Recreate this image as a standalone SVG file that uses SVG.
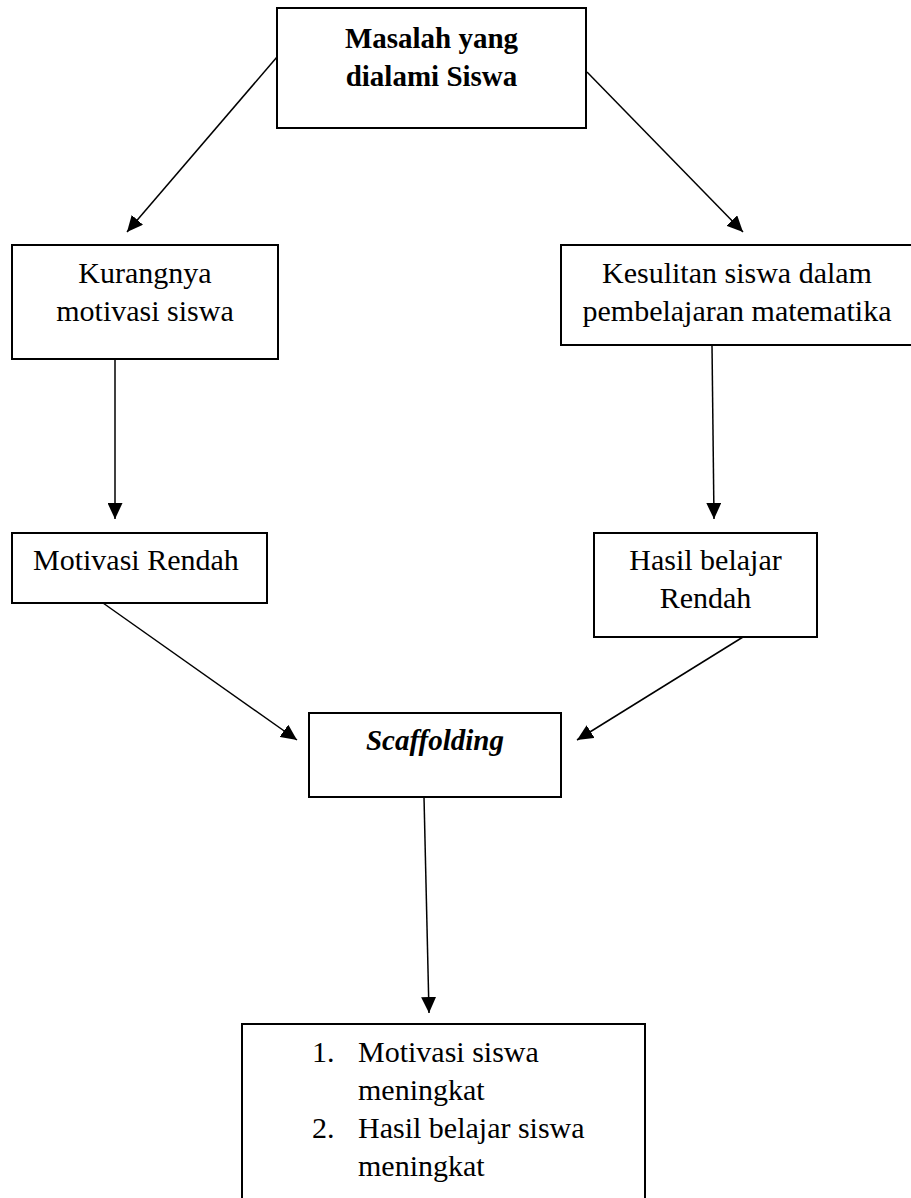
<svg xmlns="http://www.w3.org/2000/svg" width="911" height="1198" viewBox="0 0 911 1198">
<style>
.box{fill:#fff;stroke:#000;stroke-width:2}
.t{font-family:"Liberation Serif","Times New Roman",serif;font-size:30px;fill:#000}
.c{text-anchor:middle}
.b{font-weight:bold;font-size:29px}
.i{font-style:italic}
.ln{fill:none;stroke:#000;stroke-width:1.5;marker-end:url(#ah)}
</style>
<defs>
<marker id="ah" markerUnits="userSpaceOnUse" markerWidth="16" markerHeight="15" refX="16" refY="7.5" orient="auto">
<path d="M0,0 L16,7.5 L0,15 z" fill="#000"/>
</marker>
</defs>
<rect width="911" height="1198" fill="#fff"/>
<g id="connectors">
<line class="ln" x1="277" y1="57" x2="127" y2="232"/>
<line class="ln" x1="587" y1="72" x2="743" y2="232"/>
<line class="ln" x1="115" y1="359" x2="115" y2="519"/>
<line class="ln" x1="712" y1="345" x2="714" y2="519"/>
<line class="ln" x1="103" y1="603" x2="297" y2="740"/>
<line class="ln" x1="743" y1="637" x2="577" y2="740"/>
<line class="ln" x1="424" y1="797" x2="429" y2="1013"/>
</g>
<g id="masalah">
<rect class="box" x="277" y="8" width="309" height="120"/>
<text class="t c b" x="431.5" y="48">Masalah yang</text>
<text class="t c b" x="431.5" y="86">dialami Siswa</text>
</g>
<g id="kurangnya">
<rect class="box" x="12" y="245" width="266" height="114"/>
<text class="t c" x="145" y="283">Kurangnya</text>
<text class="t c" x="145" y="321">motivasi siswa</text>
</g>
<g id="kesulitan">
<rect class="box" x="561" y="245" width="355" height="100"/>
<text class="t c" x="737" y="283">Kesulitan siswa dalam</text>
<text class="t c" x="737" y="321">pembelajaran matematika</text>
</g>
<g id="motivasi-rendah">
<rect class="box" x="12" y="533" width="255" height="70"/>
<text class="t" x="33" y="570">Motivasi Rendah</text>
</g>
<g id="hasil-rendah">
<rect class="box" x="594" y="533" width="223" height="104"/>
<text class="t c" x="705.5" y="570">Hasil belajar</text>
<text class="t c" x="705.5" y="608">Rendah</text>
</g>
<g id="scaffolding">
<rect class="box" x="309" y="713" width="252" height="84"/>
<text class="t c b i" x="435" y="750">Scaffolding</text>
</g>
<g id="hasil">
<rect class="box" x="242" y="1024" width="403" height="200"/>
<text class="t" x="312" y="1062">1.</text>
<text class="t" x="358" y="1062">Motivasi siswa</text>
<text class="t" x="358" y="1100">meningkat</text>
<text class="t" x="312" y="1138">2.</text>
<text class="t" x="358" y="1138">Hasil belajar siswa</text>
<text class="t" x="358" y="1176">meningkat</text>
</g>
</svg>
